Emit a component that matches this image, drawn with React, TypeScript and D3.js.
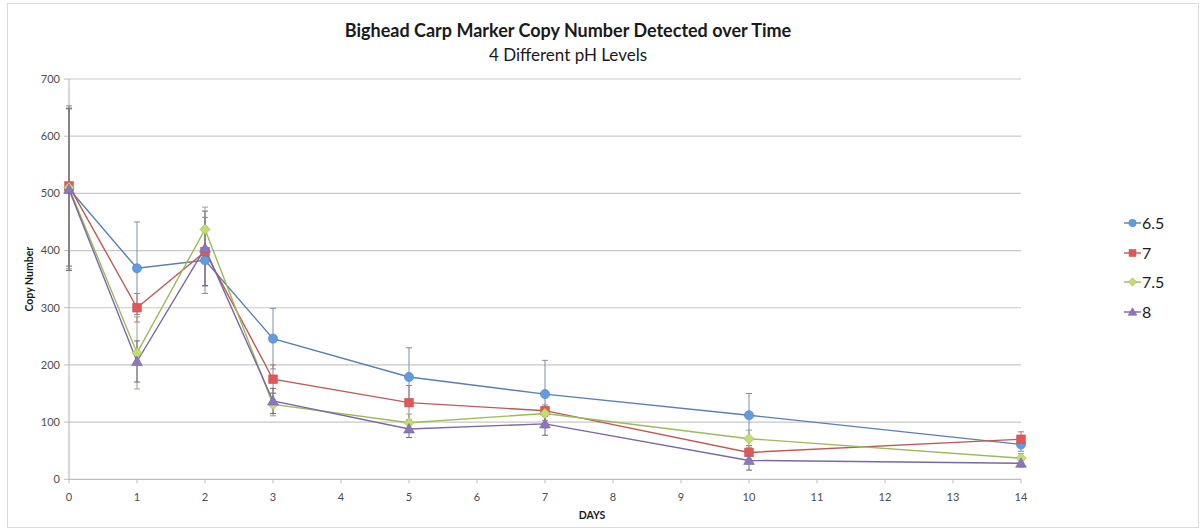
import React from "react";
import * as d3 from "d3";

// Sampling days
const days = [0, 1, 2, 3, 5, 7, 10, 14];

// Mean copy number per pH level
const ph65 = [508, 369, 383, 246, 179, 149, 112, 61];
const ph7 = [513, 300, 398, 175, 134, 120, 47, 70];
const ph75 = [510, 221, 437, 131, 99, 115, 71, 37];
const ph8 = [507, 206, 404, 137, 88, 97, 33, 28];

// Error bar half-widths
const err65 = [140, 81, 58, 53, 51, 59, 38, 12];
const err7 = [140, 25, 60, 25, 30, 10, 12, 13];
const err75 = [138, 63, 39, 20, 15, 12, 15, 8];
const err8 = [142, 36, 65, 22, 15, 20, 17, 6];

const seriesNames = ["6.5", "7", "7.5", "8"];
const yTicks = [0, 100, 200, 300, 400, 500, 600, 700];
const xTicks = d3.range(0, 15);

const title = "Bighead Carp Marker Copy Number Detected over Time";
const subtitle = "4 Different pH Levels";

type Shape = "circle" | "square" | "diamond" | "triangle";

const series = [
  { name: seriesNames[0], values: ph65, err: err65, line: "#5a7fae", fill: "#5e9de3", errColor: "#7d8fa8", shape: "circle" as Shape },
  { name: seriesNames[1], values: ph7, err: err7, line: "#bd5a58", fill: "#e35656", errColor: "#a87d7c", shape: "square" as Shape },
  { name: seriesNames[2], values: ph75, err: err75, line: "#9cba5c", fill: "#c4dd72", errColor: "#9aa283", shape: "diamond" as Shape },
  { name: seriesNames[3], values: ph8, err: err8, line: "#7c67a2", fill: "#8c76bd", errColor: "#6f6a7a", shape: "triangle" as Shape },
];

const W = 1201;
const H = 531;
const plot = { left: 69, right: 1021, top: 79, bottom: 479.3 };
const font = "Lato, 'Open Sans', sans-serif";

function Marker({ shape, x, y, fill, stroke, s = 1 }: { shape: Shape; x: number; y: number; fill: string; stroke: string; s?: number }) {
  if (shape === "circle") return <circle cx={x} cy={y} r={4.6 * s} fill={fill} stroke={stroke} strokeWidth={0.6} />;
  if (shape === "square") return <rect x={x - 4.3 * s} y={y - 4.3 * s} width={8.6 * s} height={8.6 * s} fill={fill} stroke={stroke} strokeWidth={0.6} />;
  if (shape === "diamond") {
    const r = 5.2 * s;
    return <path d={`M${x},${y - r}L${x + r},${y}L${x},${y + r}L${x - r},${y}Z`} fill={fill} stroke={stroke} strokeWidth={0.6} />;
  }
  const r = 5.4 * s;
  return <path d={`M${x},${y - r}L${x + r},${y + r * 0.75}L${x - r},${y + r * 0.75}Z`} fill={fill} stroke={stroke} strokeWidth={0.6} />;
}

export default function App() {
  const x = d3.scaleLinear().domain([0, 14]).range([plot.left, plot.right]);
  const y = d3.scaleLinear().domain([0, 700]).range([plot.bottom, plot.top]);
  const line = d3.line<number>().x((_, i) => x(days[i])).y((v) => y(v));

  const legendX = 1124;
  const legendY = [223, 253, 282, 312];

  return (
    <svg width={W} height={H} style={{ position: "absolute", left: 0, top: 0, background: "#fff" }} fontFamily={font}>
      <rect x={7.5} y={3.5} width={1191} height={524} fill="#fff" stroke="#d9d9d9" strokeWidth={1} />

      {/* Title */}
      <text x={568} y={37} textAnchor="middle" fontSize={18} fontWeight="bold" fill="#1a1a1a">{title}</text>
      <text x={568} y={61} textAnchor="middle" fontSize={17} fill="#1a1a1a">{subtitle}</text>

      {/* Horizontal gridlines */}
      {yTicks.slice(1).map((t) => (
        <line key={t} x1={plot.left} x2={plot.right} y1={y(t)} y2={y(t)} stroke="#c8c8c8" strokeWidth={1.2} />
      ))}

      {/* Axes */}
      <line x1={plot.left} x2={plot.right} y1={y(0)} y2={y(0)} stroke="#bdbdbd" strokeWidth={1.2} />
      <line x1={plot.left} x2={plot.left} y1={y(0)} y2={y(700)} stroke="#bdbdbd" strokeWidth={1.2} />
      {yTicks.map((t) => (
        <g key={t}>
          <line x1={plot.left - 5} x2={plot.left} y1={y(t)} y2={y(t)} stroke="#bdbdbd" />
          <text x={plot.left - 9} y={y(t)} dy="0.35em" textAnchor="end" fontSize={11} fill="#4d4d4d">{t}</text>
        </g>
      ))}
      {xTicks.map((t) => (
        <g key={t}>
          <line x1={x(t)} x2={x(t)} y1={y(0)} y2={y(0) + 4} stroke="#bdbdbd" />
          <text x={x(t)} y={y(0) + 22} textAnchor="middle" fontSize={11} fill="#4d4d4d">{t}</text>
        </g>
      ))}

      <text x={592} y={519} textAnchor="middle" fontSize={10.5} fontWeight="bold" fill="#1a1a1a">DAYS</text>
      <text transform={`translate(33,${(plot.top + plot.bottom) / 2}) rotate(-90)`} textAnchor="middle" fontSize={10.5} fontWeight="bold" fill="#1a1a1a">Copy Number</text>

      {/* Error bars */}
      {series.map((s) => (
        <g key={"err" + s.name}>
          {s.values.map((v, i) => {
            const cx = x(days[i]);
            const y1 = y(v + s.err[i]);
            const y2 = y(Math.max(0, v - s.err[i]));
            return (
              <g key={i} stroke={s.errColor} strokeWidth={1}>
                <line x1={cx} x2={cx} y1={y1} y2={y2} />
                <line x1={cx - 3} x2={cx + 3} y1={y1} y2={y1} />
                <line x1={cx - 3} x2={cx + 3} y1={y2} y2={y2} />
              </g>
            );
          })}
        </g>
      ))}

      {/* Series lines */}
      {series.map((s) => (
        <path key={"line" + s.name} d={line(s.values) || ""} fill="none" stroke={s.line} strokeWidth={1.4} />
      ))}

      {/* Markers */}
      {series.map((s) => (
        <g key={"mk" + s.name}>
          {s.values.map((v, i) => (
            <Marker key={i} shape={s.shape} x={x(days[i])} y={y(v)} fill={s.fill} stroke={s.line} />
          ))}
        </g>
      ))}

      {/* Legend */}
      {series.map((s, i) => (
        <g key={"lg" + s.name}>
          <line x1={legendX} x2={legendX + 17} y1={legendY[i]} y2={legendY[i]} stroke={s.line} strokeWidth={1.4} />
          <Marker shape={s.shape} x={legendX + 8.5} y={legendY[i]} fill={s.fill} stroke={s.line} s={0.8} />
          <text x={legendX + 18} y={legendY[i]} dy="0.36em" fontSize={16} fill="#1a1a1a">{s.name}</text>
        </g>
      ))}
    </svg>
  );
}
